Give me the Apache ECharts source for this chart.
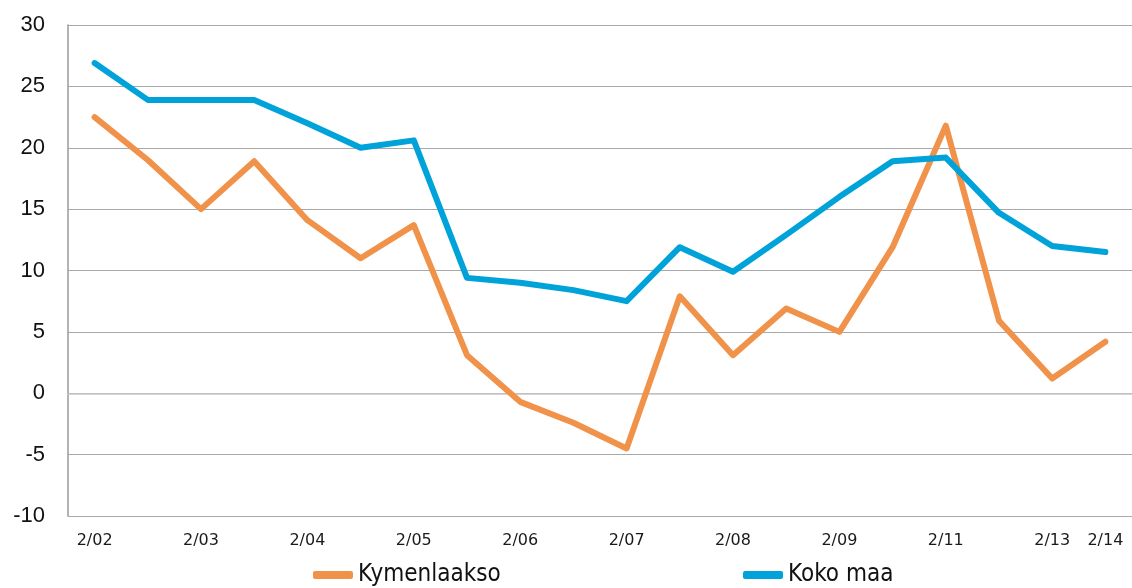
<!DOCTYPE html>
<html><head><meta charset="utf-8">
<script src="https://cdn.jsdelivr.net/npm/echarts@6/dist/echarts.min.js"></script>
<style>html,body{margin:0;padding:0;background:#fff}#c{width:1132px;height:588px}</style>
</head><body><div id="c"></div>
<script>
const categories = ["2/02","8/02","2/03","8/03","2/04","8/04","2/05","8/05","2/06","8/06","2/07","8/07","2/08","8/08","2/09","2/10","2/11","2/12","2/13","2/14"];
const shownLabels = [0,2,4,6,8,10,12,14,16,18,19];
const kymenlaakso = [22.5,19.0,15.0,18.9,14.1,11.0,13.7,3.1,-0.7,-2.4,-4.5,7.9,3.1,6.9,5.0,11.9,21.8,5.9,1.2,4.2];
const kokoMaa = [26.9,23.9,23.9,23.9,22.0,20.0,20.6,9.4,9.0,8.4,7.5,11.9,9.9,12.9,16.0,18.9,19.2,14.7,12.0,11.5];
const yMin = -10, yMax = 30, yStep = 5;
const FONT = "DejaVu Sans Condensed";

const chart = echarts.init(document.getElementById('c'), null, {renderer:'canvas'});
chart.setOption({
  animation: false,
  grid: {left: 68, top: 25, width: 1067, bottom: 72, containLabel: false},
  xAxis: {
    type: 'category', data: categories, boundaryGap: true,
    axisLine: {show: true, lineStyle: {color: '#c8c8c8', width: 1.5}},
    axisTick: {show: false},
    axisLabel: {
      interval: (i) => shownLabels.indexOf(i) >= 0,
      fontFamily: "DejaVu Sans", fontSize: 16, color: '#1a1a1a', margin: 17
    },
    splitLine: {show: false}
  },
  yAxis: {
    type: 'value', min: yMin, max: yMax, interval: yStep,
    axisLine: {show: true, lineStyle: {color: '#9a9a9a', width: 1.5}},
    axisTick: {show: false},
    axisLabel: {fontFamily: "Liberation Sans", fontSize: 22, color: '#111', margin: 23},
    splitLine: {show: true, lineStyle: {color: '#a8a8a8', width: 1.2}}
  },
  legend: [
    {data: ['Kymenlaakso'], left: 313, top: 563, padding: 0, itemWidth: 40, itemHeight: 8, icon: 'roundRect', itemGap: 0,
     textStyle: {fontFamily: FONT, fontSize: 24, color: '#111'}},
    {data: ['Koko maa'], left: 743, top: 563, padding: 0, itemWidth: 40, itemHeight: 8, icon: 'roundRect', itemGap: 0,
     textStyle: {fontFamily: FONT, fontSize: 24, color: '#111'}}
  ],
  series: [
    {name: 'Kymenlaakso', type: 'line', data: kymenlaakso, symbol: 'none', smooth: false,
     lineStyle: {color: '#f0924a', width: 6, cap: 'round', join: 'round'}, itemStyle: {color: '#f0924a'}},
    {name: 'Koko maa', type: 'line', data: kokoMaa, symbol: 'none', smooth: false,
     lineStyle: {color: '#00a3d9', width: 6, cap: 'round', join: 'round'}, itemStyle: {color: '#00a3d9'}}
  ]
});
</script></body></html>
